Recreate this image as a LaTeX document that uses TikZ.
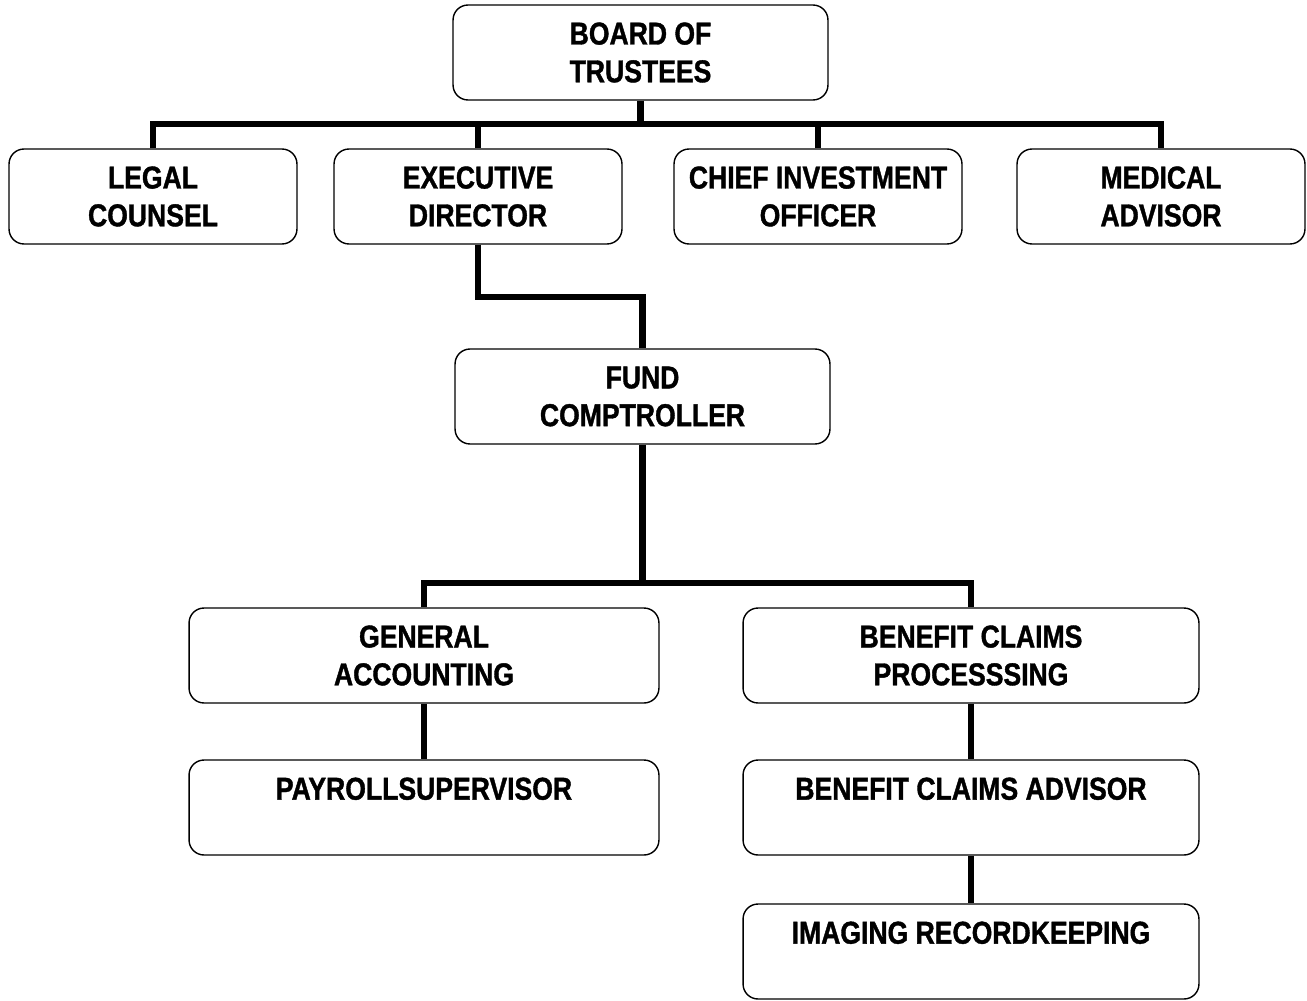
\documentclass[tikz,border=0pt]{standalone}
\usepackage{fontspec}
\setmainfont{Liberation Sans}[FakeStretch=0.84,BoldFeatures={FakeBold=1.2}]
\usepackage{tikz}
\usetikzlibrary{positioning}

\begin{document}
\begin{tikzpicture}[x=0.02cm,y=-0.02cm,
  font=\bfseries\fontsize{18}{21.5}\selectfont,
  unit/.style={draw,line width=0.8pt,rounded corners=0.3cm,align=center,
    minimum width=5.76cm,minimum height=1.9cm,inner sep=2pt},
  wideunit/.style={unit,minimum width=7.5cm},
  deptunit/.style={unit,minimum width=9.2cm},
  conn/.style={line width=3.6pt}]
\useasboundingbox (0,0) rectangle (1307,1000);
% --- top level ---
\node[wideunit] (board) at (640.5,52.5) {BOARD OF\\TRUSTEES};
\node[unit] (legal) at (153,196.5) {LEGAL\\COUNSEL};
\node[unit] (exec) at (478,196.5) {EXECUTIVE\\DIRECTOR};
\node[unit] (cio) at (818,196.5) {CHIEF INVESTMENT\\OFFICER};
\node[unit] (medical) at (1161,196.5) {MEDICAL\\ADVISOR};
% --- comptroller and departments ---
\node[wideunit] (fund) at (642.5,396.5) {FUND\\COMPTROLLER};
\node[deptunit,minimum width=9.4cm] (general) at (424,655.5) {GENERAL\\ACCOUNTING};
\node[deptunit,minimum width=9.12cm] (claims) at (971,655.5) {BENEFIT CLAIMS\\PROCESSSING};
\node[deptunit,minimum width=9.4cm] (payroll) at (424,807.5) {PAYROLLSUPERVISOR\\\phantom{X}};
\node[deptunit,minimum width=9.12cm] (advisor) at (971,807.5) {BENEFIT CLAIMS ADVISOR\\\phantom{X}};
\node[deptunit,minimum width=9.12cm] (imaging) at (971,951.5) {IMAGING RECORDKEEPING\\\phantom{X}};
% --- connectors ---
\coordinate (bus) at (640.5,124);
\coordinate (elbow) at (560,297);
\coordinate (split) at (642.5,583);
\draw[conn] (board.south) -- (bus);
\draw[conn] (legal.north) -- (legal.north |- bus) -- (medical.north |- bus) -- (medical.north);
\draw[conn] (exec.north) -- (exec.north |- bus);
\draw[conn] (cio.north) -- (cio.north |- bus);
\draw[conn] (exec.south) |- (elbow) -| (fund.north);
\draw[conn] (fund.south) -- (split);
\draw[conn] (general.north) |- (split) -| (claims.north);
\draw[conn] (general.south) -- (payroll.north);
\draw[conn] (claims.south) -- (advisor.north);
\draw[conn] (advisor.south) -- (imaging.north);
\end{tikzpicture}
\end{document}
